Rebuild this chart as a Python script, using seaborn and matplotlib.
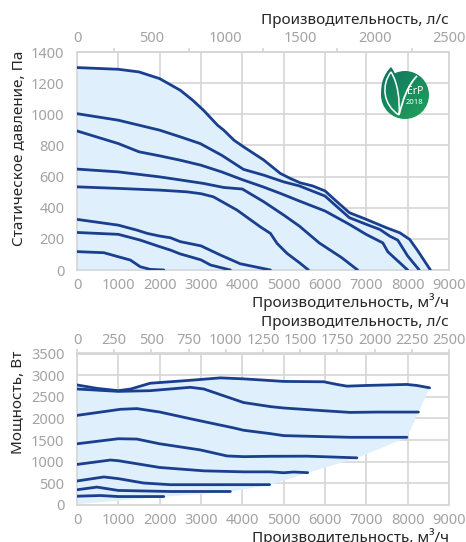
import numpy as np
import pandas as pd
import matplotlib
matplotlib.use("Agg")
import matplotlib.pyplot as plt
import seaborn as sns
from matplotlib.ticker import FixedLocator, NullFormatter
from matplotlib.patches import Circle, PathPatch
from matplotlib.path import Path
from matplotlib.colors import LinearSegmentedColormap

# ---------------- data: static pressure curves (m3/h, Pa) ----------------
c1_q = [0, 1000, 1500, 2000, 2500, 2800, 3060, 3400, 3550, 3800, 4030, 4520, 4920, 5160, 5400, 5700, 6000, 6270, 6590, 7000, 7490, 7810, 8050, 8240, 8550]
c1_p = [1300, 1289, 1272, 1229, 1154, 1090, 1026, 930, 898, 833, 791, 706, 620, 588, 560, 540, 508, 443, 368, 325, 271, 239, 196, 125, 0]
c2_q = [0, 1000, 1500, 2000, 2500, 2980, 3500, 4030, 4520, 5000, 5380, 6000, 6270, 6590, 7000, 7330, 7570, 7760, 8000, 8280]
c2_p = [1004, 962, 930, 898, 855, 812, 737, 646, 609, 566, 540, 475, 411, 336, 293, 260, 217, 192, 90, 0]
c3_q = [0, 1000, 1500, 2000, 2500, 3000, 3500, 4000, 4500, 4920, 5380, 6000, 6590, 7000, 7400, 7520, 8000]
c3_p = [893, 812, 759, 733, 705, 673, 630, 580, 534, 492, 443, 379, 293, 228, 174, 117, 0]
c4_q = [0, 1000, 2000, 2260, 3060, 3550, 4000, 4520, 5000, 5380, 5860, 6400, 6790]
c4_p = [648, 630, 598, 588, 556, 530, 520, 438, 353, 282, 174, 80, 0]
c5_q = [0, 1000, 2000, 2660, 3000, 3300, 3870, 4430, 4680, 4840, 5080, 5400, 5600]
c5_p = [534, 524, 513, 502, 490, 470, 385, 278, 235, 171, 107, 43, 0]
c6_q = [0, 1000, 1450, 1700, 2000, 2260, 2500, 3000, 3470, 3950, 4680]
c6_p = [325, 288, 256, 235, 218, 207, 182, 155, 96, 40, 0]
c7_q = [0, 1000, 1530, 2000, 2260, 2500, 2740, 3000, 3230, 3710]
c7_p = [241, 229, 192, 150, 128, 103, 85, 65, 32, 0]
c8_q = [0, 650, 1000, 1290, 1530, 1770, 2100]
c8_p = [118, 111, 85, 64, 21, 4, 0]

# ---------------- data: power curves (m3/h, W) ----------------
w1_q = [0, 480, 1000, 1300, 1770, 2660, 3470, 4030, 4680, 5000, 5970, 6290, 6530, 7020, 7980, 8220, 8530]
w1_w = [2773, 2695, 2641, 2680, 2813, 2875, 2937, 2914, 2875, 2855, 2847, 2785, 2746, 2762, 2785, 2762, 2707]
w2_q = [0, 1000, 1770, 2740, 3070, 3550, 4030, 4680, 5000, 5970, 6610, 7260, 8260]
w2_w = [2680, 2625, 2641, 2719, 2680, 2523, 2367, 2273, 2241, 2178, 2139, 2147, 2147]
w3_q = [0, 1050, 1450, 2000, 2820, 3790, 4030, 4680, 5000, 5970, 6610, 7980]
w3_w = [2070, 2211, 2227, 2148, 1977, 1781, 1727, 1648, 1603, 1579, 1564, 1564]
w4_q = [0, 1000, 1450, 2000, 2980, 3630, 4030, 4680, 5560, 6050, 6770]
w4_w = [1414, 1531, 1523, 1414, 1273, 1133, 1117, 1125, 1128, 1113, 1089]
w5_q = [0, 810, 1000, 2000, 3070, 4030, 4680, 5000, 5240, 5580]
w5_w = [937, 1039, 1023, 867, 789, 766, 766, 745, 762, 747]
w6_q = [0, 650, 1000, 1610, 2260, 3070, 4660]
w6_w = [555, 648, 609, 508, 469, 469, 470]
w7_q = [0, 480, 1000, 2260, 3710]
w7_w = [352, 414, 336, 312, 312]
w8_q = [0, 565, 1000, 2100]
w8_w = [203, 219, 195, 195]
# lower edge of the shaded power envelope (ends of the curves)
env_q = [0, 2100, 3710, 4660, 5580, 6770, 7980, 8530]
env_w = [20, 190, 310, 460, 745, 1085, 1560, 2707]

q_ticks = [0, 1000, 2000, 3000, 4000, 5000, 6000, 7000, 8000, 9000]
p_ticks = [0, 200, 400, 600, 800, 1000, 1200, 1400]
w_ticks = [0, 500, 1000, 1500, 2000, 2500, 3000, 3500]
ls_ticks_top = [0, 500, 1000, 1500, 2000, 2500]
ls_minor_top = [250, 750, 1250, 1750, 2250]
ls_ticks_bot = [0, 250, 500, 750, 1000, 1250, 1500, 1750, 2000, 2250, 2500]

LINE = "#1a3f8e"
FILL = "#dff0fc"
GRID = "#d6d6d6"
TICK = "#a3a3a3"
TXT = "#262626"

sns.set_theme(style="white")
plt.rcParams["font.family"] = ["Noto Sans", "DejaVu Sans"]

top_df = pd.concat([
    pd.DataFrame({"q": q, "v": v, "curve": i}) for i, (q, v) in enumerate(
        [(c1_q, c1_p), (c2_q, c2_p), (c3_q, c3_p), (c4_q, c4_p),
         (c5_q, c5_p), (c6_q, c6_p), (c7_q, c7_p), (c8_q, c8_p)])
], ignore_index=True)
bot_df = pd.concat([
    pd.DataFrame({"q": q, "v": v, "curve": i}) for i, (q, v) in enumerate(
        [(w1_q, w1_w), (w2_q, w2_w), (w3_q, w3_w), (w4_q, w4_w),
         (w5_q, w5_w), (w6_q, w6_w), (w7_q, w7_w), (w8_q, w8_w)])
], ignore_index=True)

W, H = 466, 542
fig = plt.figure(figsize=(W / 100, H / 100), dpi=100)
fig.patch.set_facecolor("white")


def box(x0, y0, x1, y1):
    return [x0 / W, 1 - y1 / H, (x1 - x0) / W, (y1 - y0) / H]


ax1 = fig.add_axes(box(77, 52, 449, 270))
ax2 = fig.add_axes(box(77, 353.5, 449, 505))

# shaded envelopes
ax1.fill_between(c1_q, 0, c1_p, color=FILL, lw=0, zorder=1)
poly_q = list(w1_q) + list(env_q[::-1])
poly_w = list(w1_w) + list(env_w[::-1])
ax2.fill(poly_q, poly_w, color=FILL, lw=0, zorder=1)

sns.lineplot(data=top_df, x="q", y="v", hue="curve", palette=[LINE] * 8,
             legend=False, sort=False, estimator=None, lw=2.0, ax=ax1, zorder=3)
sns.lineplot(data=bot_df, x="q", y="v", hue="curve", palette=[LINE] * 8,
             legend=False, sort=False, estimator=None, lw=2.0, ax=ax2, zorder=3)


def style(ax, yticks, ymax, ls_major, ls_minor):
    ax.set_xlim(0, 9000)
    ax.set_ylim(0, ymax)
    ax.set_xticks(q_ticks)
    ax.set_yticks(yticks)
    ax.grid(True, color=GRID, lw=1.2, zorder=0)
    ax.set_axisbelow(True)
    for s in ax.spines.values():
        s.set_color(GRID)
        s.set_linewidth(1.2)
    ax.tick_params(axis="both", colors=GRID, labelcolor=TICK, labelsize=10.5,
                   length=3, width=1.2, direction="out")
    ax.tick_params(axis="y", pad=6)
    ax.tick_params(axis="x", pad=2.5)
    ax.set_xlabel("")
    ax.set_ylabel("")
    sec = ax.secondary_xaxis("top", functions=(lambda q: q / 3.6, lambda l: l * 3.6))
    sec.set_xticks(ls_major)
    sec.spines["top"].set_color(GRID)
    if ls_minor:
        sec.xaxis.set_minor_locator(FixedLocator(ls_minor))
        sec.xaxis.set_minor_formatter(NullFormatter())
        sec.tick_params(axis="x", which="major", length=0, pad=4,
                        labelcolor=TICK, labelsize=10.5)
        sec.tick_params(axis="x", which="minor", length=3, width=1.2, colors=GRID)
    else:
        sec.tick_params(axis="x", which="major", length=3, width=1.2, colors=GRID,
                        labelcolor=TICK, labelsize=10.5, pad=1)
    return sec


style(ax1, p_ticks, 1400, ls_ticks_top, ls_minor_top)
style(ax2, w_ticks, 3500, ls_ticks_bot, None)

# axis titles
lab = dict(color=TXT, fontsize=11)
ax1.text(1.0, (270 - 302.5) / 218, "Производительность, м³/ч", transform=ax1.transAxes,
         ha="right", va="center", **lab)
ax1.text(1.0, (270 - 21) / 218, "Производительность, л/с", transform=ax1.transAxes,
         ha="right", va="center", **lab)
ax1.text((20 - 77) / 372, (270 - 148) / 218, "Статическое давление, Па", transform=ax1.transAxes,
         ha="center", va="center", rotation=90, **lab)
ax2.text(1.0, (505 - 537) / 151.5, "Производительность, м³/ч", transform=ax2.transAxes,
         ha="right", va="center", **lab)
ax2.text(1.0, (505 - 322) / 151.5, "Производительность, л/с", transform=ax2.transAxes,
         ha="right", va="center", **lab)
ax2.text((19 - 77) / 372, (505 - 402) / 151.5, "Мощность, Вт", transform=ax2.transAxes,
         ha="center", va="center", rotation=90, **lab)

# ---------------- ErP 2018 logo ----------------
lg = fig.add_axes(box(370, 62, 435, 127))
lg.set_xlim(0, 65)
lg.set_ylim(0, 65)
lg.axis("off")
lg.patch.set_alpha(0)
grad = np.linspace(0, 1, 200)
G = np.add.outer(grad[::-1], grad) / 2.0
cmap = LinearSegmentedColormap.from_list("erp", ["#0d6a62", "#168a5e", "#2aa85a"])
circ = Circle((35, 32), 24, transform=lg.transData, facecolor="none", edgecolor="none")
lg.add_patch(circ)
im1 = lg.imshow(G[::-1], extent=[0, 65, 0, 65], cmap=cmap, origin="upper", zorder=1)
im1.set_clip_path(circ)
leaf_path = Path([(29, 9), (8, 20), (6, 45), (21, 60), (32, 45), (34, 25), (29, 9)],
                 [Path.MOVETO, Path.CURVE4, Path.CURVE4, Path.CURVE4,
                  Path.CURVE4, Path.CURVE4, Path.CURVE4])
leaf = PathPatch(leaf_path, facecolor="none", edgecolor="none", transform=lg.transData)
lg.add_patch(leaf)
im2 = lg.imshow(G[::-1], extent=[0, 65, 0, 65], cmap=cmap, origin="upper", zorder=1)
im2.set_clip_path(leaf)
inner = Path([(29, 12), (13, 22), (11, 42), (21, 55), (28, 44), (30, 26), (29, 12)],
             [Path.MOVETO, Path.CURVE4, Path.CURVE4, Path.CURVE4,
              Path.CURVE4, Path.CURVE4, Path.CURVE4])
lg.add_patch(PathPatch(inner, facecolor="none", edgecolor="white", lw=1.1, zorder=3))
stem = Path([(29, 12), (33, 28), (38, 42), (47, 51)],
            [Path.MOVETO, Path.CURVE4, Path.CURVE4, Path.CURVE4])
lg.add_patch(PathPatch(stem, facecolor="none", edgecolor="white", lw=1.3, zorder=3))
lg.text(45.5, 35, "ErP", color="white", fontsize=7.5, ha="center", va="center", zorder=4)
lg.text(45, 24.5, "2018", color="white", fontsize=5.5, ha="center", va="center", zorder=4)

fig.savefig("out.png", dpi=100, facecolor="white")
